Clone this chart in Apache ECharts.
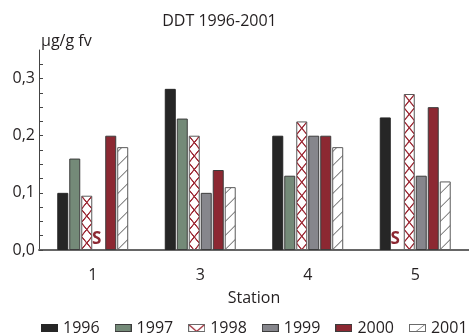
<!DOCTYPE html>
<html>
<head>
<meta charset="utf-8">
<script src="https://cdn.jsdelivr.net/npm/echarts@6/dist/echarts.min.js"></script>
<style>
  html, body { margin: 0; padding: 0; background: #fff; }
  #chart { width: 469px; height: 335px; }
</style>
</head>
<body>
<div id="chart"></div>
<script>
// DDT in µg/g fresh weight per station and year; null = no sample ("S")
const stations = ['1', '3', '4', '5'];
const years = ['1996', '1997', '1998', '1999', '2000', '2001'];
const v1996 = [0.10, 0.282, 0.20, 0.232];
const v1997 = [0.16, 0.23, 0.13, null];
const v1998 = [0.095, 0.20, 0.225, 0.273];
const v1999 = [null, 0.10, 0.20, 0.13];
const v2000 = [0.20, 0.14, 0.20, 0.25];
const v2001 = [0.18, 0.11, 0.18, 0.12];
const yLabelValues = [0, 0.1, 0.2, 0.3];
const yTickValues = [0, 0.025, 0.05, 0.075, 0.1, 0.125, 0.15, 0.175, 0.2, 0.225, 0.25, 0.275, 0.3, 0.325];
const noSampleMark = 'S';

const FONT = '"Open Sans", "Noto Sans", sans-serif';
const TEXT = '#231f20';
const RED = '#8c2832';
const HATCH_RED = '#9e2a36';

// Cross-hatch tile (X chain) drawn at 2x, scaled down in the pattern
function crossTile() {
  const c = document.createElement('canvas');
  c.width = 22; c.height = 27;
  const g = c.getContext('2d');
  g.fillStyle = '#fff'; g.fillRect(0, 0, 22, 27);
  g.strokeStyle = HATCH_RED; g.lineWidth = 2.6;
  g.beginPath();
  g.moveTo(0, 0); g.lineTo(22, 27);
  g.moveTo(22, 0); g.lineTo(0, 27);
  g.stroke();
  return c;
}
// Single diagonal hatch tile
function diagTile() {
  const s = 28;
  const c = document.createElement('canvas');
  c.width = s; c.height = s;
  const g = c.getContext('2d');
  g.fillStyle = '#fff'; g.fillRect(0, 0, s, s);
  g.strokeStyle = '#8a8a8a'; g.lineWidth = 2;
  g.beginPath();
  g.moveTo(0, s); g.lineTo(s, 0);
  g.moveTo(-2, 2); g.lineTo(2, -2);
  g.moveTo(s - 2, s + 2); g.lineTo(s + 2, s - 2);
  g.stroke();
  return c;
}
const crossImg = crossTile();
const diagImg = diagTile();

// Legend swatches
function swatch(fill, border, draw) {
  const c = document.createElement('canvas');
  c.width = 17; c.height = 8;
  const g = c.getContext('2d');
  g.fillStyle = fill; g.fillRect(0, 0, 17, 8);
  if (draw) draw(g);
  if (border) { g.strokeStyle = border; g.lineWidth = 1; g.strokeRect(0.5, 0.5, 16, 7); }
  return 'image://' + c.toDataURL();
}
const legendIcons = {
  '1996': swatch('#262626', '#262626'),
  '1997': swatch('#748a78', '#3c3c3c'),
  '1998': swatch('#fff', '#6a6a6a', g => {
    g.strokeStyle = HATCH_RED; g.lineWidth = 1.2;
    g.beginPath(); g.moveTo(0.5, 0.5); g.lineTo(8.5, 7.5); g.lineTo(16.5, 0.5); g.stroke();
  }),
  '1999': swatch('#86868c', '#3c3c3c'),
  '2000': swatch(RED, '#3c3c3c'),
  '2001': swatch('#fff', '#6a6a6a', g => {
    g.strokeStyle = '#8a8a8a'; g.lineWidth = 1;
    g.beginPath(); g.moveTo(7, 7.5); g.lineTo(16, 0.5); g.stroke();
  })
};

const seriesDefs = [
  { name: '1996', values: v1996, color: '#262626', border: '#262626' },
  { name: '1997', values: v1997, color: '#748a78', border: '#3c3c3c' },
  { name: '1998', values: v1998, color: '#fff', border: '#5a5a5a', hatch: 'cross' },
  { name: '1999', values: v1999, color: '#86868c', border: '#3c3c3c' },
  { name: '2000', values: v2000, color: RED, border: '#3c3c3c' },
  { name: '2001', values: v2001, color: '#fff', border: '#5a5a5a', hatch: 'diag' }
];

function buildData(def, layouts) {
  return def.values.map((v, i) => {
    if (v === null) {
      return {
        value: 0,
        itemStyle: { color: 'transparent', borderWidth: 0 },
        label: {
          show: true, formatter: noSampleMark, position: 'top', distance: 2,
          offset: [-2, 0], color: RED, fontWeight: 'bold', fontSize: 17, fontFamily: FONT
        }
      };
    }
    if (def.hatch && layouts) {
      const l = layouts[i];
      const top = Math.min(l.y, l.y + l.height);
      const pat = def.hatch === 'cross'
        ? { image: crossImg, repeat: 'repeat', x: l.x, y: top, scaleX: 0.5, scaleY: 0.5 }
        : { image: diagImg, repeat: 'repeat', x: l.x, y: l.y, scaleX: 0.5, scaleY: 0.5 };
      return { value: v, itemStyle: { color: pat } };
    }
    return v;
  });
}

function buildSeries(layoutMap) {
  return seriesDefs.map((def, si) => ({
    name: def.name,
    type: 'bar',
    barWidth: 11,
    barGap: '9%',
    itemStyle: { color: def.color, borderColor: def.border, borderWidth: 1 },
    emphasis: { disabled: true },
    data: buildData(def, layoutMap ? layoutMap[si] : null)
  }));
}

const chart = echarts.init(document.getElementById('chart'), null, { renderer: 'canvas' });

const option = {
  animation: false,
  textStyle: { fontFamily: FONT, color: TEXT },
  graphic: [{
    type: 'text', x: 219.5, y: 21,
    style: { text: 'DDT 1996-2001', font: '16px ' + FONT, fill: TEXT, textAlign: 'center', textVerticalAlign: 'middle' }
  }],
  grid: { left: 39, top: 50, width: 437, bottom: 85 },
  legend: {
    left: 41, top: 320, width: 468, padding: 0,
    itemWidth: 17, itemHeight: 8, itemGap: 15,
    textStyle: { fontSize: 16, fontFamily: FONT, color: TEXT },
    data: years.map(y => ({ name: y, icon: legendIcons[y] }))
  },
  xAxis: {
    type: 'category',
    data: stations,
    axisTick: { show: false },
    axisLine: { lineStyle: { color: '#666', width: 2 } },
    axisLabel: { margin: 17, fontSize: 16, fontFamily: FONT, color: TEXT },
    name: 'Station', nameLocation: 'middle', nameGap: 40,
    nameTextStyle: { fontSize: 16, fontFamily: FONT, color: TEXT }
  },
  yAxis: {
    type: 'value', min: 0, max: 0.35,
    splitLine: { show: false },
    axisLine: { show: true, lineStyle: { color: '#444', width: 1 } },
    axisTick: { show: true, inside: true, length: 4, customValues: yTickValues, lineStyle: { color: '#444' } },
    axisLabel: {
      margin: 4, fontSize: 16, fontFamily: FONT, color: TEXT,
      customValues: yLabelValues,
      formatter: v => v.toFixed(1).replace('.', ',')
    },
    name: 'µg/g fv', nameLocation: 'end', nameGap: 1,
    nameTextStyle: { fontSize: 16, fontFamily: FONT, color: TEXT, align: 'left', verticalAlign: 'bottom', padding: [0, 0, 0, 2] }
  },
  series: buildSeries(null)
};
chart.setOption(option);

// Anchor the hatch patterns to each bar's own position
const layoutMap = seriesDefs.map((def, si) => {
  const data = chart.getModel().getSeriesByIndex(si).getData();
  return def.values.map((v, i) => data.getItemLayout(i));
});
chart.setOption({ series: buildSeries(layoutMap) });
</script>
</body>
</html>
